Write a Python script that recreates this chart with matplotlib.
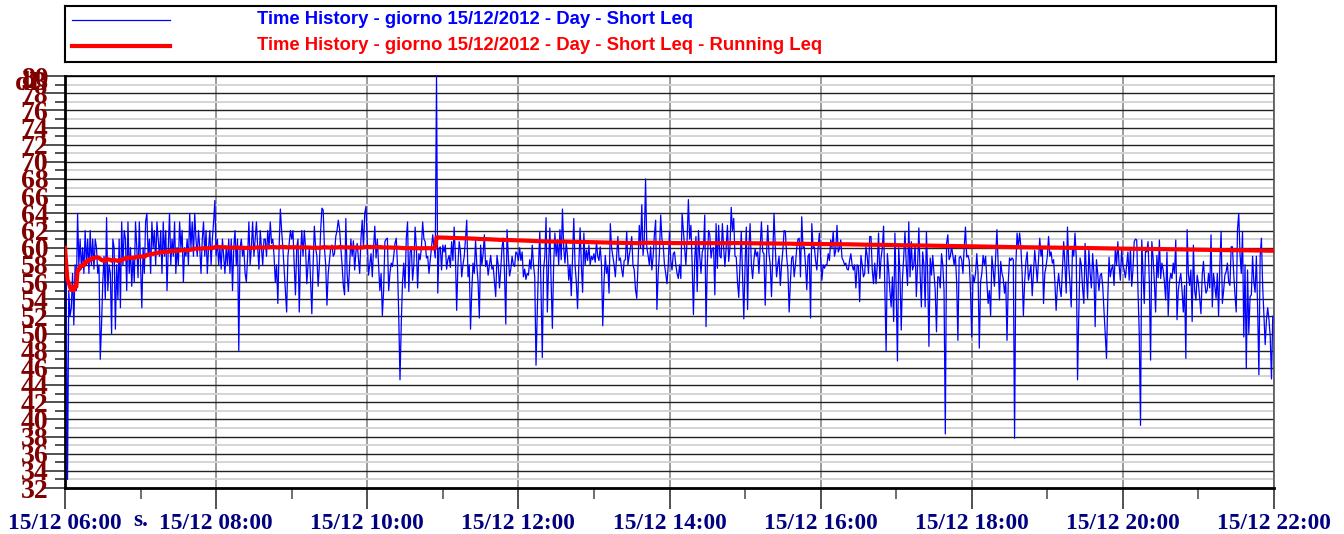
import numpy as np
import pandas as pd
import matplotlib
matplotlib.use("Agg")
import matplotlib.pyplot as plt
import matplotlib.dates as mdates
from matplotlib.lines import Line2D
from matplotlib.transforms import blended_transform_factory

# Short Leq (dB), one value per minute, 15/12/2012 06:00 -> 22:00, one list per hour
leq_06 = [60, 54, 33, 55, 52, 53, 57, 51, 58, 55,
          64, 58, 61, 57.5, 60, 57, 62, 58, 61, 57,
          62, 58, 61, 57.5, 61, 60, 57, 58, 47, 51,
          56, 59, 54, 63.5, 55, 58, 57, 50, 61, 60,
          50.5, 58, 54, 61, 53, 63, 58, 62, 61, 55,
          63, 57, 60, 55.5, 59, 56, 63, 60, 56.5, 63]
leq_07 = [58, 53, 60, 57, 63, 64, 59, 61, 57, 63,
          60, 62, 58, 63, 61, 59, 62, 57, 63, 59,
          62, 55, 60, 64, 58, 61, 59, 63, 57, 60,
          58, 63, 60, 62, 56, 60, 59, 61, 58, 64,
          60, 63, 59, 64, 61, 59, 62, 60, 57, 61,
          63, 59, 62, 57, 60, 62, 58, 61, 63, 65.5]
leq_08 = [59, 61, 58, 60, 57.5, 61, 59, 57, 60, 58,
          61, 57, 61, 55, 60, 62, 58, 61, 48, 60,
          61, 59, 60, 57, 56, 59, 63, 58, 60, 63,
          59, 61, 63, 60, 57.5, 62, 60, 58, 61, 61,
          59, 62, 60, 63, 60.5, 61, 59, 56, 58, 53.5,
          60, 64.5, 62, 60, 57.5, 55, 52.5, 59, 60.5, 62]
leq_09 = [61, 62, 58, 54.5, 60, 61, 52.5, 59, 62, 59,
          62, 60, 55.8, 58, 60, 56, 52.3, 58, 62.5, 60,
          59, 55.5, 58, 62, 64.6, 64.4, 60, 58, 53.3, 57,
          58.5, 60, 60.3, 59, 59.3, 61.3, 62, 63.2, 62.2, 60,
          58, 55.6, 54.5, 63.4, 57, 54.9, 58, 61, 59, 60.8,
          57.4, 59.5, 60.5, 58.8, 57, 61, 63.2, 60, 64, 64.8]
leq_10 = [60.7, 56.8, 58, 59.3, 56.6, 60, 62.5, 58.8, 61, 58,
          55, 57, 52.1, 55, 60.7, 61, 61.1, 55, 57, 58.2,
          57.8, 59, 60.5, 61.1, 58, 52, 44.6, 51.1, 56, 58.2,
          55.3, 61.1, 63, 54.9, 59.5, 60.1, 56.2, 58, 62.4, 60,
          55.3, 59.3, 58.6, 60, 63, 61, 60.7, 58.8, 59, 57,
          58.5, 60, 61.5, 60, 58.8, 80, 54.7, 59.9, 60.1, 57.4]
leq_11 = [60.3, 59.5, 60.3, 57.5, 58.6, 59.1, 57.7, 60.7, 58.5, 62.4,
          59, 52.7, 58, 60.7, 59.5, 56.6, 58, 59, 61, 63.2,
          56.6, 58, 50.5, 55, 58.2, 57, 60.9, 58, 56, 51.8,
          60.3, 58, 59.3, 61.5, 57.8, 58.5, 56.8, 58, 59.1, 57.5,
          57.8, 56, 54.3, 59.1, 58, 55.3, 57.5, 60, 61.1, 57,
          51.1, 62.1, 59, 56.7, 57.5, 59, 58, 57.8, 59.5, 59.3]
leq_12 = [58.5, 60, 58.5, 59.5, 56.6, 57.5, 56.3, 57, 56.8, 58.6,
          57.5, 60.3, 58, 56.6, 46.3, 52.5, 58, 61.9, 55, 47.2,
          57.4, 59, 63.5, 52.5, 58, 62.3, 56, 50.6, 58, 61.7,
          59, 60.9, 58, 62.1, 58.6, 64.5, 60, 58.2, 60.7, 59,
          56.2, 58, 54.4, 59, 63.4, 58, 56, 52.9, 58, 62.3,
          58, 54.8, 61.7, 58, 59.7, 58.5, 60.3, 58, 59, 58.6]
leq_13 = [59.3, 58.3, 60.7, 59, 58.5, 60.1, 58, 50.9, 56, 59.1,
          57, 57.8, 54.7, 62.8, 60, 59, 58, 56.6, 59, 61.3,
          58.5, 58.8, 57.5, 56.6, 58.5, 58.6, 61.9, 58, 59.1, 60,
          61.3, 58, 57.4, 55.1, 54.1, 58, 62.6, 60, 65, 59.1,
          61, 68, 60, 59.1, 58, 60.1, 57.4, 59, 61.5, 63.2,
          52.8, 57, 59.3, 63.8, 61, 60.3, 58, 57, 55.8, 58]
leq_14 = [61.9, 58.5, 57.4, 59.3, 59.5, 58, 57, 56.4, 58, 56.4,
          64, 62, 60, 58, 61, 65.6, 61, 62.6, 58, 52.2,
          58.5, 61.3, 54.9, 62, 59, 57, 59.5, 60, 63.8, 50.8,
          58, 62, 61.5, 58.8, 59.9, 60, 54.5, 62.8, 57.6, 62.6,
          59, 58.8, 62.8, 60, 57.8, 60, 62.6, 58.4, 60, 64.7,
          62, 63.4, 59, 58.9, 56, 54.2, 58, 61.9, 57, 51.7]
leq_15 = [58, 62.4, 52.8, 60, 62.8, 58, 56.4, 58.5, 59.9, 59,
          59.5, 57, 60, 63, 59.5, 59.3, 53.3, 59, 62.6, 59.3,
          58, 54.3, 59, 64, 60, 56.6, 58, 59, 55.6, 58,
          59.7, 62, 61.9, 59, 57.4, 52.5, 56, 58.8, 59, 56.6,
          58, 59.9, 61, 61.1, 56.6, 63.6, 60, 60.1, 58, 55.1,
          59, 59.3, 51.8, 62.8, 60, 60.1, 58.5, 57.4, 60, 61.7]
leq_16 = [59, 56.2, 58, 57.6, 58, 58, 59.3, 58.5, 60.9, 60,
          61.9, 59, 59.7, 62.6, 59.5, 59.9, 60.9, 58.8, 58.5, 58,
          58.2, 57.5, 57.4, 58.5, 59.3, 58, 57.4, 58, 55.3, 58,
          57.9, 53.7, 59.1, 58, 56.6, 57, 60.1, 59, 57, 61.3,
          61.3, 57.4, 55.8, 58.2, 55.8, 58, 61.7, 56.4, 58.8, 60,
          62.5, 55, 47.9, 59.3, 57.4, 55, 53.1, 56.6, 51.4, 61.7]
leq_17 = [55, 46.8, 60, 57, 50.4, 56.4, 59, 61.9, 58, 55.6,
          63, 56.6, 60.7, 57.4, 58, 60.3, 54.3, 58, 62.3, 57,
          53.1, 59.5, 58, 53.1, 61.9, 57, 48.5, 58.8, 56.8, 59.1,
          57, 55, 50.2, 56.6, 56.6, 55.3, 59.3, 58, 55, 38.3,
          60.5, 61.5, 58.6, 59, 60.1, 59.1, 58, 59.1, 56, 49.2,
          58.8, 59, 58.6, 57, 60, 62.4, 58.9, 59.1, 58.5, 55]
leq_18 = [49.6, 56.8, 56, 57, 59.3, 57, 48.3, 56, 57, 59.1,
          58, 59, 56, 53.5, 55, 52.1, 59, 57.5, 55.5, 59,
          62.1, 58, 53.9, 58.4, 57, 56.4, 54.7, 56, 49.2, 56,
          58.8, 58.5, 58.8, 58.6, 37.8, 58, 61.7, 60, 61.7, 60.1,
          57, 52.1, 56, 58.4, 59.5, 56.2, 57, 58, 54.4, 57,
          59.7, 58, 56, 58.5, 61.1, 59, 60.1, 53.5, 57, 57.8]
leq_19 = [59, 61.3, 59, 59.5, 58.2, 58.6, 56, 52.7, 55.5, 57,
          55.3, 54.3, 57.5, 60.7, 58, 54.7, 62.4, 58, 55.8, 53.1,
          60.1, 59, 61.7, 58.8, 44.6, 52.3, 58.8, 58, 55.3, 53.5,
          60.5, 57, 54.1, 59.8, 57, 55.3, 59.3, 57, 50.8, 58.6,
          57, 55, 56.8, 57, 55.5, 52.7, 50, 47.1, 54, 58.9,
          56.6, 57.5, 58, 55.6, 59.9, 58, 60.7, 58, 56.2, 59.7]
leq_20 = [58, 57.4, 56.5, 58, 59.5, 56.2, 60, 55.5, 57.4, 60.7,
          61, 60.9, 55, 50, 39.3, 60.9, 57, 53.5, 59.9, 59.5,
          60.7, 56, 46.9, 60.7, 58.8, 56, 52.5, 59.1, 56.5, 60.9,
          56.4, 58.2, 57.4, 56, 53.9, 59.5, 52.1, 56, 57, 56.4,
          58.2, 57, 60.9, 51.6, 55, 56.2, 57, 55, 52.5, 55.6,
          47.1, 62.1, 57, 55.6, 57.4, 51.4, 60.3, 55, 53.9, 56.8]
leq_21 = [55.8, 54, 52.3, 56.8, 58.4, 56, 54.7, 55.1, 57, 55.3,
          61.5, 53.1, 57, 55.6, 54.1, 57, 52, 58, 61.9, 53.5,
          55, 56.8, 57.2, 58.2, 56, 55.6, 60.1, 60.1, 57, 54.5,
          52.5, 62.1, 64, 59.3, 57, 61.9, 49.6, 58, 45.9, 57.4,
          50, 54.3, 54.5, 59, 56, 54.8, 59, 53, 45.2, 59,
          61.1, 55.5, 52, 48.7, 51.6, 53, 51.6, 49.6, 44.7, 52]

short_leq = np.array(leq_06 + leq_07 + leq_08 + leq_09 + leq_10 + leq_11 + leq_12 + leq_13
                     + leq_14 + leq_15 + leq_16 + leq_17 + leq_18 + leq_19 + leq_20 + leq_21)
times = pd.date_range("2012-12-15 06:00", periods=len(short_leq), freq="min")

# running (cumulative) Leq of the short Leq values
energy = np.cumsum(10 ** (short_leq / 10))
running_leq = 10 * np.log10(energy / np.arange(1, len(short_leq) + 1))

label_blue = "Time History - giorno 15/12/2012 - Day - Short Leq"
label_red = "Time History - giorno 15/12/2012 - Day - Short Leq - Running Leq"

serif = ["Liberation Serif", "DejaVu Serif"]
sans = ["Liberation Sans", "DejaVu Sans"]

fig = plt.figure(figsize=(13.44, 5.34), dpi=100)
ax = fig.add_axes([65 / 1344, 1 - 488 / 534, 1209 / 1344, 412 / 534])

ax.plot(times, short_leq, color="#0000ff", lw=0.9, zorder=3)
ax.plot(times, running_leq, color="#ff0000", lw=3, zorder=4)

ax.set_xlim(pd.Timestamp("2012-12-15 06:00"), pd.Timestamp("2012-12-15 22:00"))
ax.set_ylim(32, 80)

ax.set_yticks(np.arange(32, 81, 2))
ax.set_yticks(np.arange(33, 80, 2), minor=True)
ax.xaxis.set_major_locator(mdates.HourLocator(byhour=range(6, 23, 2)))
ax.xaxis.set_minor_locator(mdates.HourLocator())
ax.xaxis.set_major_formatter(mdates.DateFormatter("%d/%m %H:%M"))

ax.yaxis.grid(True, which="major", color="#222222", lw=1.0, zorder=1)
ax.yaxis.grid(True, which="minor", color="#d4d4d4", lw=1.4, zorder=1)
ax.xaxis.grid(True, which="major", color="#8a8a8a", lw=1.2, zorder=1)

ax.tick_params(axis="y", which="major", length=15, width=1.2, color="#333333", pad=-3)
ax.tick_params(axis="y", which="minor", length=7, width=1.2, color="#333333")
ax.tick_params(axis="x", which="major", length=15, width=1.2, color="#333333", pad=3)
ax.tick_params(axis="x", which="minor", length=8, width=1.2, color="#555555")

for lab in ax.get_yticklabels():
    lab.set_family(serif)
    lab.set_fontweight("bold")
    lab.set_fontsize(20)
    lab.set_color("#800000")
for lab in ax.get_xticklabels():
    lab.set_family(serif)
    lab.set_fontweight("bold")
    lab.set_fontsize(16.8)
    lab.set_color("#000080")

for side in ["left", "bottom"]:
    ax.spines[side].set_linewidth(2)
    ax.spines[side].set_color("black")
ax.spines["top"].set_linewidth(1.2)
ax.spines["right"].set_linewidth(1.2)
ax.spines["right"].set_color("#555555")

# axis units, as the original software prints them
ax.text(pd.Timestamp("2012-12-15 07:00"), -0.079, "s.", transform=blended_transform_factory(ax.transData, ax.transAxes),
        ha="center", va="center", family=serif, fontweight="bold", fontsize=16.8, color="#000080")
ax.text(-0.013, 79.1, "dB", transform=blended_transform_factory(ax.transAxes, ax.transData),
        ha="right", va="center", family=serif, fontweight="bold", fontsize=20, color="#800000")

# legend box
lax = fig.add_axes([65 / 1344, 1 - 62 / 534, 1211 / 1344, 56 / 534])
lax.set_xlim(0, 1)
lax.set_ylim(0, 1)
lax.set_xticks([])
lax.set_yticks([])
for sp in lax.spines.values():
    sp.set_linewidth(1.5)
    sp.set_color("black")
lax.add_line(Line2D([0.006, 0.087], [0.75, 0.75], color="#0000ff", lw=0.9))
lax.add_line(Line2D([0.006, 0.087], [0.29, 0.29], color="#ff0000", lw=3))
lax.text(0.1585, 0.76, label_blue, ha="left", va="center", family=sans, fontweight="bold", fontsize=13.3, color="#0000ff")
lax.text(0.1585, 0.30, label_red, ha="left", va="center", family=sans, fontweight="bold", fontsize=13.3, color="#ff0000")

fig.savefig("out.png", dpi=100)
